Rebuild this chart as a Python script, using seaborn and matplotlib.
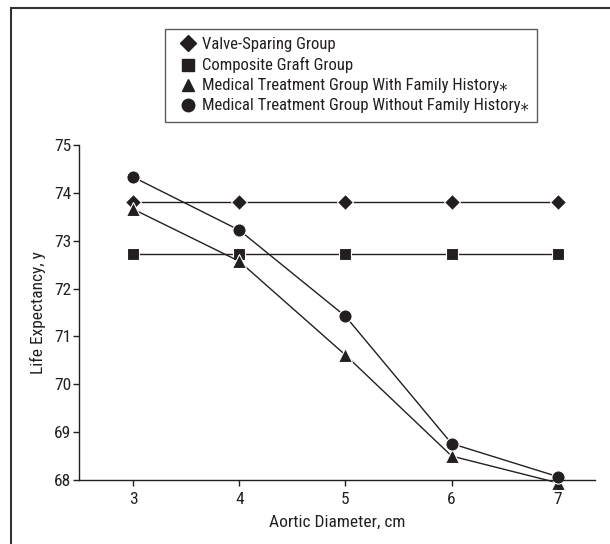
import matplotlib
matplotlib.use("Agg")
import matplotlib.pyplot as plt
from matplotlib import font_manager
from matplotlib.lines import Line2D
from matplotlib.patches import Rectangle
import seaborn as sns
import pandas as pd

diameters = [3, 4, 5, 6, 7]
valve_sparing = [73.8, 73.8, 73.8, 73.8, 73.8]
composite_graft = [72.72, 72.72, 72.72, 72.72, 72.72]
medical_with_fh = [73.66, 72.57, 70.61, 68.5, 67.94]
medical_without_fh = [74.33, 73.22, 71.42, 68.76, 68.07]

series_names = [
    "Valve-Sparing Group",
    "Composite Graft Group",
    "Medical Treatment Group With Family History\u204e",
    "Medical Treatment Group Without Family History\u204e",
]
series_values = [valve_sparing, composite_graft, medical_with_fh, medical_without_fh]
markers = ["D", "s", "^", "o"]
msizes = [8.5, 8.5, 9.5, 9.5]
yticks = [68, 69, 70, 71, 72, 73, 74, 75]

sns.set_style("ticks")
installed = {f.name for f in font_manager.fontManager.ttflist}
prefs = ["Roboto Condensed", "Liberation Sans Narrow", "PT Sans Narrow", "Archivo Narrow"]
fams = [f for f in prefs if f in installed] or ["Liberation Sans"]
plt.rcParams["font.family"] = fams[:1] + ["DejaVu Sans"]
fs = 12.5
leg_fs = 12

ink = "#231f20"
fig = plt.figure(figsize=(6.1, 5.44), dpi=100)
ax = fig.add_axes([79 / 610, 1 - 480 / 544, (595 - 79) / 610, (480 - 145) / 544])

for name, vals, m, ms in zip(series_names, series_values, markers, msizes):
    df = pd.DataFrame({"x": diameters, "y": vals})
    sns.lineplot(data=df, x="x", y="y", ax=ax, color=ink, linewidth=1.0,
                 marker=m, markersize=ms, markeredgecolor="white",
                 markeredgewidth=0.8, clip_on=False)

ax.set_xlim(2.49, 7.35)
ax.set_ylim(68, 75)
ax.set_xticks(diameters)
ax.set_yticks(yticks)
ax.tick_params(axis="both", labelsize=fs, colors=ink, length=4, width=1.0)
ax.tick_params(axis="y", pad=1.5)
ax.tick_params(axis="x", pad=5)
for s in ["top", "right"]:
    ax.spines[s].set_visible(False)
for s in ["left", "bottom"]:
    ax.spines[s].set_color(ink)
    ax.spines[s].set_linewidth(1.0)
ax.set_xlabel("Aortic Diameter, cm", fontsize=fs, color=ink, labelpad=5)
ax.set_ylabel("Life Expectancy, y", fontsize=fs, color=ink, labelpad=6)

handles = [Line2D([], [], color=ink, marker=m, linestyle="none", markersize=ms - 0.5)
           for m, ms in zip(markers, msizes)]
leg = fig.legend(handles, series_names, loc="upper left",
                 bbox_to_anchor=(165 / 610, 1 - 29 / 544),
                 fontsize=leg_fs, frameon=True, fancybox=False, edgecolor="#333333",
                 handlelength=1.7, handletextpad=0.0, labelspacing=0.3,
                 borderpad=0.5, borderaxespad=0)
leg.get_frame().set_linewidth(1.0)
for t in leg.get_texts():
    t.set_color(ink)

# outer figure frame (top and left edges visible)
fig.patches.append(Rectangle((11 / 610, -0.1), 1.2, 1 - 8 / 544 + 0.1,
                             transform=fig.transFigure, fill=False,
                             edgecolor="#333333", linewidth=1.5))

fig.savefig("out.png", dpi=100, facecolor="white")
